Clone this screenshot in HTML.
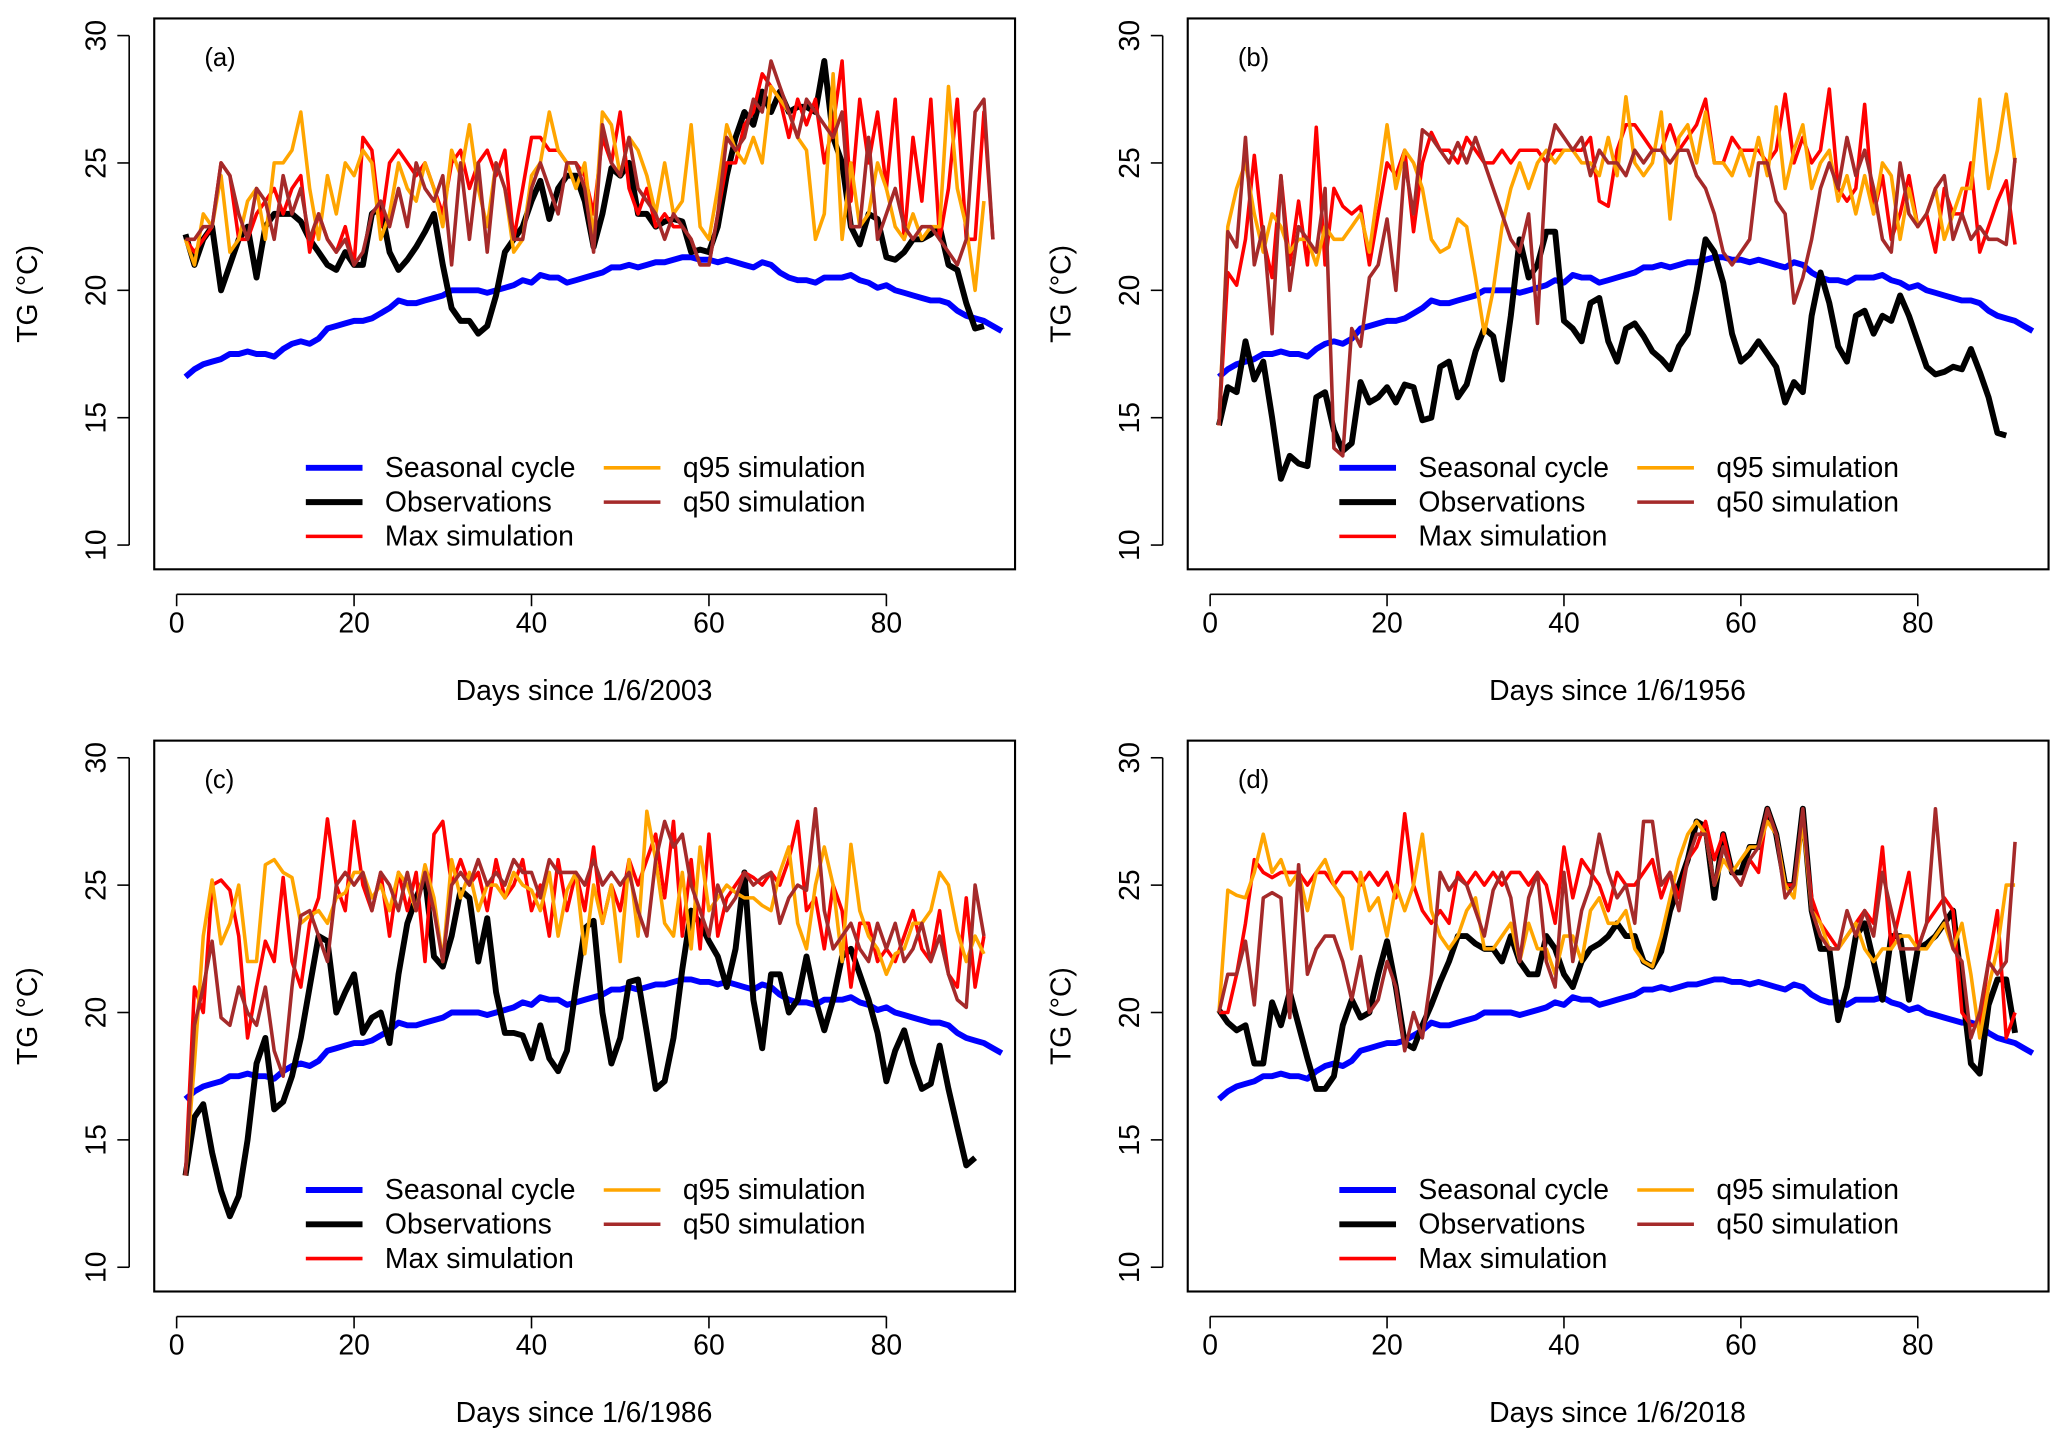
<!DOCTYPE html>
<html><head><meta charset="utf-8"><style>
html,body{margin:0;padding:0;background:#fff}
svg{display:block}
text{font-family:"Liberation Sans",Arial,sans-serif;fill:#000}
</style></head><body>
<svg id="chart" width="2067" height="1447" viewBox="0 0 1568 1098" preserveAspectRatio="none" xmlns="http://www.w3.org/2000/svg"></svg>
<script>
const seasonal=[16.6,16.9,17.1,17.2,17.3,17.5,17.5,17.6,17.5,17.5,17.4,17.7,17.9,18,17.9,18.1,18.5,18.6,18.7,18.8,18.8,18.9,19.1,19.3,19.6,19.5,19.5,19.6,19.7,19.8,20,20,20,20,19.9,20,20.1,20.2,20.4,20.3,20.6,20.5,20.5,20.3,20.4,20.5,20.6,20.7,20.9,20.9,21,20.9,21,21.1,21.1,21.2,21.3,21.3,21.2,21.2,21.1,21.2,21.1,21,20.9,21.1,21,20.7,20.5,20.4,20.4,20.3,20.5,20.5,20.5,20.6,20.4,20.3,20.1,20.2,20,19.9,19.8,19.7,19.6,19.6,19.5,19.2,19,18.9,18.8,18.6,18.4];
const obsA=[22.2,21,22,22.5,20,21,22,22.5,20.5,22.5,23,23,23,22.7,22,21.5,21,20.8,21.5,21,21,23,23.3,21.5,20.8,21.2,21.7,22.3,23,21,19.3,18.8,18.8,18.3,18.6,19.8,21.5,22,22.5,23.5,24.3,22.8,24,24.5,24.5,23.5,21.7,23,24.8,24.5,25,23,23,22.5,22.7,22.8,22.7,21.5,21.6,21.5,22.5,24.5,26,27,26.5,27.8,27,27.8,27,27.2,27.2,27,29,26,25,22.5,21.8,23,22.8,21.3,21.2,21.5,22,22,22.2,22.5,21,20.8,19.5,18.5,18.6];
const q95A=[22,21,23,22.5,24.5,21.5,22,23.5,24,22,25,25,25.5,27,24,22,24.5,23,25,24.5,25.5,25,22,23,25,24,23.5,25,24,22.5,25.5,24.5,26.5,24,22.5,25,24,21.5,22,24.5,25,27,25.5,25,24,25,22,27,26.5,24.5,26,25.5,24.5,23,25,23,23.5,26.5,22.5,22,24,26.5,25.5,25,26,25,28,27.5,27,26,25.5,22,23,28.5,22,25,22.5,23,25,24,22.5,22,23,22,22.5,22.5,28,24,22.5,20,23.5];
const maxA=[22,21.5,22,22.5,25,24.5,22,22,23,23.5,24,23,24,24.5,21.5,23,22,21.5,22.5,21,26,25.5,22.5,25,25.5,25,24.5,25,24,23,25,25.5,24,25,25.5,24.5,25.5,22,24,26,26,25.5,25.5,25,25,24.5,23,26,25,27,24,23,24,22.5,23,22.5,22.5,22,21,21,23,25,25,26.5,27,28.5,28,27.5,26,27.5,26.5,27.5,25,26.5,29,23.5,27.5,25,27,24,27.5,22,26,23.5,27.5,22,24,27.5,22,22,27,22];
const q50A=[22,22,22.5,22.5,25,24.5,23,22,24,23.5,22,24.5,23,24,22,23,22,21.5,22,21,21.5,23,23.5,22.5,24,22.5,25,24,23.5,24.5,21,25,22,25,21.5,25,24,22,22,24,25,24,23,25,25,24,21.5,26.5,25,24.5,26,24,23.5,23,22,23,22.5,22,21,21,23,26,25.5,26,27.5,27,29,28,27,26,27.5,27,26.5,26,27,22.5,22.5,26,22,23,24,22.5,22,22.5,22.5,22,21.5,21,22,27,27.5,22];
const obsB=[14.7,16.2,16,18,16.5,17.2,15,12.6,13.5,13.2,13.1,15.8,16,14.5,13.7,14,16.4,15.6,15.8,16.2,15.6,16.3,16.2,14.9,15,17,17.2,15.8,16.3,17.6,18.5,18.2,16.5,19,22,20.5,21,22.3,22.3,18.8,18.5,18,19.5,19.7,18,17.2,18.5,18.7,18.2,17.6,17.3,16.9,17.8,18.3,20,22,21.5,20.3,18.3,17.2,17.5,18,17.5,17,15.6,16.4,16,19,20.7,19.5,17.8,17.2,19,19.2,18.3,19,18.8,19.8,19,18,17,16.7,16.8,17,16.9,17.7,16.8,15.8,14.4,14.3];
const q95B=[14.7,22.5,24,25,23,21.5,23,22.5,21.5,22,22,21,22.5,22,22,22.5,23,21.5,24,26.5,24,25.5,25,24,22,21.5,21.7,22.8,22.5,20.5,18.3,20,22.5,24,25,24,25,25.5,25,25.5,25.5,25,25,24.5,26,24.5,27.6,25,24.5,25,27,22.8,26,26.5,25,27,25,25,24.5,25.5,24.5,26,24.5,27.2,24,25.5,26.5,24,25,25.5,23.5,24.5,23,24.5,23,25,24.5,22,24,22.5,23,24,22,23,24,24,27.5,24,25.5,27.7,25];
const maxB=[14.7,20.7,20.2,22,25.3,22,20.5,24.5,21,23.5,21,26.4,21,24,23.3,23,23.3,21,23,25,24.5,25.5,22.3,25,26.2,25.5,25.5,25,26,25.5,25,25,25.5,25,25.5,25.5,25.5,25,25.5,25.5,25.5,25.5,26,23.5,23.3,25.5,26.5,26.5,26,25.5,25.5,26.5,25.5,26,26.5,27.5,25,25,26,25.5,25.5,25.5,25,25.5,27.7,25,26,25,25.5,27.9,24,23.5,24,27.3,23,24.5,22,23,24.5,22.5,23,21.5,24,23,23,25,21.5,22.5,23.5,24.3,21.8];
const q50B=[14.7,22.3,21.7,26,21,22.5,18.3,24.5,20,22.5,22,21.5,24,13.8,13.5,18.5,17.8,20.5,21,22.8,20,25,23,26.3,26,25.5,25,25.8,25,26,25,24,23,22,21.5,23,18.7,25,26.5,26,25.5,26,24.5,25.5,25,25,24.5,25.5,25,25.5,25.5,25,25.5,25.5,24.5,24,23,21.5,21,21.5,22,25,25,23.5,23,19.5,20.5,22,24,25,24,26,24.5,25.5,24,22,21.5,25,23,22.5,23,24,24.5,22,23,22,22.5,22,22,21.8,25.2];
const obsC=[13.6,15.9,16.4,14.5,13,12,12.8,15,18,19,16.2,16.5,17.5,19,21,23,22.8,20,20.8,21.5,19.2,19.8,20,18.8,21.5,23.5,24.5,25.3,22.2,21.8,23,24.8,24.5,22,23.7,20.8,19.2,19.2,19.1,18.2,19.5,18.2,17.7,18.5,21,23.3,23.6,20,18,19,21.2,21.3,19.2,17,17.3,19,21.7,24,23.5,22.8,22.2,21,22.5,25.5,20.5,18.6,21.5,21.5,20,20.5,22.2,20.5,19.3,20.5,22.2,22.5,21.5,20.5,19.2,17.3,18.5,19.3,18,17,17.2,18.7,17,15.5,14,14.3];
const q95C=[13.6,18,23,25.2,22.7,23.5,25,22,22,25.8,26,25.5,25.3,23.5,23.8,24,23.5,24.5,24.7,25.5,25.5,24.5,25,24,25.5,25,24,25.8,24.5,22,26,24.5,25.5,24,25,25,24.5,25.5,25,24.8,24,25.5,23,24.8,25.5,22.3,25,23.5,25,22,26,23,27.9,26,23.5,23,25.5,22.5,26.5,24,24.5,25,24.7,24.5,24.5,24.2,24,25.5,26.5,23.5,22.5,25,26.5,25,22,26.6,24,23,22.5,21.5,22.3,22.5,23.5,23.5,24,25.5,25,23.2,22,23,22.3];
const maxC=[13.6,21,20,25,25.2,24.8,23,19,21,22.8,22,25.3,22,21,23.5,24.5,27.6,25,24,27.5,25,24,25.5,23,25.5,24,25.5,22,27,27.5,25,26,25,25.5,24,26,24.5,25,26,24,25,23,26,24,25.5,24,26.5,23.5,25,24,26,25,26,27,24.5,27.5,23,26,22.5,27,23,24.5,25,25.5,25.3,25,25.5,25,26,27.5,24,24.5,22.5,25,24,21,23.5,23.5,22,22.5,22,23,24,22.5,22,24,21.5,21,24.5,21,23];
const q50C=[13.6,19.5,21,22.8,19.8,19.5,21,20,19.5,21,18.5,17.5,21,23.8,24,23,22,25,25.5,25,25.5,24,25.5,25,24,25.5,24,25.5,24,22,25,25.5,25,26,25,25.5,25,26,25.5,25.5,24.5,26,25.5,25.5,25.5,25,26,25,25.5,25,25.5,24,23,26,27.5,26.5,27,25,24,23,25,24,24.5,25.5,25,25.3,25.5,23.5,24.5,25,24.8,28,24,22.5,23,23.5,22.5,22,23.5,22.5,23.5,22,22.5,23.5,22,23,21.5,20.5,20.2,25,23];
const obsD=[20.1,19.6,19.3,19.5,18,18,20.4,19.5,20.8,19.5,18.2,17,17,17.5,19.5,20.5,19.8,20,21.5,22.8,21,18.8,18.6,19.5,20.3,21.2,22,23,23,22.7,22.5,22.5,22,23,22,21.5,21.5,23,22.5,21.5,21,22,22.5,22.7,23,23.5,23,23,22,21.8,22.4,24,25,26,27.5,27.3,24.5,27,25.5,25.5,26.5,26.5,28,27,25,25,28,24,22.5,22.5,19.7,21,23,23.5,22,20.5,23,23,20.5,22.5,22.7,23,23.5,24,21,18,17.6,20.3,21.3,21.3,19.2];
const q95D=[20,24.8,24.6,24.5,25.5,27,25.5,26,25,25.5,24,25.5,26,25,24.5,22.5,25.5,24,24.5,23,25,24,25,27,24,23,22.5,23,24,24.5,22.5,22.5,23,23.5,22,23.5,22.5,22.5,21.5,23,23,22,24,24.5,23.5,23.5,24,22.5,22,21.8,23,24.5,26,27,27.5,27,25,26,25.5,26,26.5,26.5,27.5,27,25,24.5,27.5,24,23.5,22.5,22.5,23,23.5,22.5,22,22.5,22.5,23,23,22.5,22.5,23,23.5,22.5,23.5,21.5,19,21,22.5,25,25];
const maxD=[20,20,21.5,23.5,26,25.5,25.3,25.5,25.5,25.5,25,25.5,25.5,25,25.5,25.5,25,25.5,25,25.5,24.5,27.8,25,24,23.5,24,23.5,25.5,25,25.5,25,25.5,25,25.5,25.5,25,25.5,25,23.5,26.5,24.5,26,25.5,25,24,25.5,25,25,25.5,26,24.5,25.5,24.5,26,26.5,27.5,26,27,25.5,25,26,25.5,28,27,25,25,27.5,24.5,23.5,23,22.5,23,23.5,24,23.5,26.5,22.5,24,25.5,22.5,23.5,24,24.5,24,20,19.5,19.5,22,24,19,20];
const q50D=[20,21.5,21.5,22.8,20.3,24.5,24.7,24.5,19.8,25.8,21.5,22.5,23,23,22,20.5,22.2,20,20.5,22,21,18.5,20,19,21.5,25.5,24.8,25.3,25,24,23,24.8,25.5,24.5,22,24.5,25.5,22,21,25.5,22,24,25,27,25.5,24.5,25,23.5,27.5,27.5,25,25.5,24,26,27,27,25,26.5,25.5,25,26,26.5,28,27,24.5,25,28,24,23,22.5,22.5,24,23,24,23,25.5,24,22.5,22.5,22.5,23.5,28,24,22.5,22,19,20,22,21.5,22,26.7];
const xTicks=[0,20,40,60,80];
const yTicks=[10,15,20,25,30];
const panelLabels=["(a)","(b)","(c)","(d)"];
const titles=["Days since 1/6/2003","Days since 1/6/1956","Days since 1/6/1986","Days since 1/6/2018"];
const panelsData=[[obsA,maxA,q95A,q50A],[obsB,maxB,q95B,q50B],[obsC,maxC,q95C,q50C],[obsD,maxD,q95D,q50D]];

const NS="http://www.w3.org/2000/svg";
const svg=document.getElementById('chart');
function mk(tag,attrs,parent){const e=document.createElementNS(NS,tag);for(const k in attrs)e.setAttribute(k,attrs[k]);(parent||svg).appendChild(e);return e;}
const boxes=[{l:117,t:14,ox:134,dx:6.73},{l:901,t:14,ox:918,dx:6.71},{l:117,t:562,ox:134,dx:6.73},{l:901,t:562,ox:918,dx:6.71}];
const FS=21.5;
boxes.forEach((b,pi)=>{
  const g=mk('g',{});
  
  
  const X=d=>b.ox+d*b.dx;
  const Y=v=>b.t+13+(30-v)*19.33;
  const pts=arr=>arr.map((v,i)=>X(i+1).toFixed(1)+','+Y(v).toFixed(1)).join(' ');
  const clip=mk('clipPath',{id:'c'+pi},g);mk('rect',{x:b.l,y:b.t,width:653,height:418},clip);
  const lg=mk('g',{'clip-path':'url(#c'+pi+')'},g);
  const d=panelsData[pi];
  const series=[[seasonal,'#0000ff',4.5,'seasonal-cycle-line'],[d[0],'#000',4.5,'observations-line'],[d[1],'#ff0000',2.7,'max-simulation-line'],[d[2],'#ffa500',2.7,'q95-simulation-line'],[d[3],'#a52a2a',2.7,'q50-simulation-line']];
  series.forEach(s=>{
    const pl=mk('polyline',{points:pts(s[0]),fill:'none',stroke:s[1],'stroke-width':s[2],'stroke-linejoin':'round'},lg);
    
    
  });
  const fr=mk('rect',{x:b.l,y:b.t,width:653,height:418,fill:'none',stroke:'#000','stroke-width':1.6},g);
  
  
  const bot=b.t+418;
  mk('line',{x1:X(0),x2:X(80),y1:bot+19,y2:bot+19,stroke:'#000','stroke-width':1.2},g);
  xTicks.forEach(t=>{
    mk('line',{x1:X(t),x2:X(t),y1:bot+19,y2:bot+28,stroke:'#000','stroke-width':1.2},g);
    const tx=mk('text',{x:X(t),y:bot+48,'text-anchor':'middle','font-size':FS},g);tx.textContent=t;
    
    
  });
  mk('line',{x1:b.l-19,x2:b.l-19,y1:Y(10),y2:Y(30),stroke:'#000','stroke-width':1.2},g);
  yTicks.forEach(t=>{
    mk('line',{x1:b.l-28,x2:b.l-19,y1:Y(t),y2:Y(t),stroke:'#000','stroke-width':1.2},g);
    const tx=mk('text',{x:b.l-37,y:Y(t),'text-anchor':'middle','font-size':FS,transform:`rotate(-90 ${b.l-37} ${Y(t)})`},g);tx.textContent=t;
    
    
  });
  const yt=mk('text',{x:b.l-89,y:b.t+209,'text-anchor':'middle','font-size':FS,transform:`rotate(-90 ${b.l-89} ${b.t+209})`},g);yt.textContent='TG (°C)';
  
  
  const xt=mk('text',{x:b.l+326,y:bot+99,'text-anchor':'middle','font-size':FS},g);xt.textContent=titles[pi];
  
  
  const pl=mk('text',{x:b.l+38,y:b.t+36,'font-size':19.5},g);pl.textContent=panelLabels[pi];
  
  
  const leg=[['Seasonal cycle','#0000ff',4.5,0,0],['Observations','#000',4.5,0,1],['Max simulation','#ff0000',2.7,0,2],['q95 simulation','#ffa500',2.7,1,0],['q50 simulation','#a52a2a',2.7,1,1]];
  leg.forEach(e=>{
    const lx=b.l+115+e[3]*226, ly=b.t+341+e[4]*26;
    const le=mk('g',{},g);
    
    
    mk('line',{x1:lx,x2:lx+43,y1:ly,y2:ly,stroke:e[1],'stroke-width':e[2]},le);
    const t=mk('text',{x:lx+60,y:ly+7,'font-size':FS},le);t.textContent=e[0];
  });
});
</script>
</body></html>
